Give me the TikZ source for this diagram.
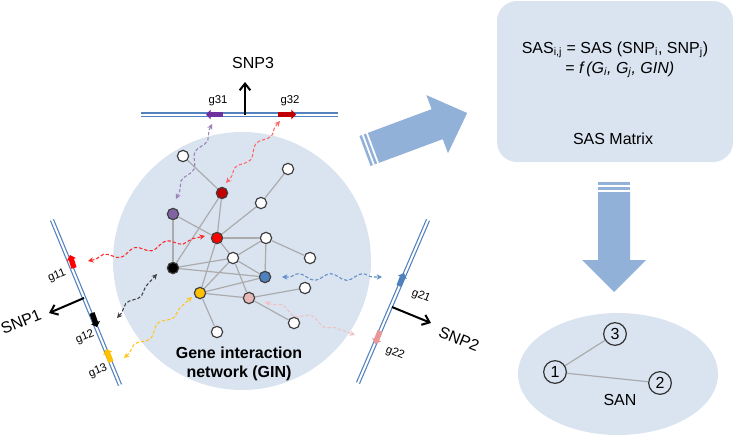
\documentclass[tikz,border=0pt]{standalone}
\usepackage{fontspec}
\setmainfont{Liberation Sans}
\usetikzlibrary{arrows.meta,decorations.pathmorphing}

\definecolor{bgblue}{RGB}{218,228,241}
\definecolor{chromoblue}{RGB}{84,130,190}
\definecolor{bigarrow}{RGB}{146,177,216}
\definecolor{gred}{RGB}{192,0,0}
\definecolor{bred}{RGB}{255,0,0}
\definecolor{gpurple}{RGB}{128,100,162}
\definecolor{dpurple}{RGB}{112,48,160}
\definecolor{gblue}{RGB}{79,129,189}
\definecolor{gyellow}{RGB}{255,192,0}
\definecolor{gpink}{RGB}{230,184,183}
\definecolor{dpink}{RGB}{232,150,150}

\tikzset{every picture/.style={line width=0.75pt}}
\tikzset{
  gnode/.style={circle, draw=black!75, line width=0.9pt, minimum size=8.5pt, inner sep=0pt, fill=white},
  gedge/.style={draw=black!33, line width=0.9pt},
  chromo/.style={draw=chromoblue, double=white, double distance=1.5pt, line width=0.9pt},
  gene/.style={line width=4pt, -{Triangle[length=3.5pt,width=7pt]}},
  wavy/.style={dashed, dash pattern=on 2.5pt off 1.5pt, line width=0.8pt,
    {Stealth[length=4pt,width=4pt]}-{Stealth[length=4pt,width=4pt]},
    decorate, decoration={snake, amplitude=2.5pt, segment length=24pt, pre length=5pt, post length=5pt}},
  snparrow/.style={line width=1.5pt, -{Straight Barb[length=5pt,width=8pt]}},
  snplabel/.style={font=\fontsize{12}{14}\selectfont, inner sep=0.75pt},
  glabel/.style={font=\fontsize{8.5}{10}\selectfont, inner sep=0.75pt},
  sannode/.style={circle, draw=black!80, line width=0.9pt, minimum size=17pt, inner sep=0pt, font=\fontsize{12}{14}\selectfont},
}

\begin{document}
\begin{tikzpicture}[x=0.75pt,y=0.75pt,yscale=-1,xscale=1]
\useasboundingbox (0,0) rectangle (748,439);

%Shape: Circle [id:gin]
\fill[bgblue] (242,261) circle (129);
%Shape: Rounded Rectangle [id:sasbox]
\fill[bgblue, rounded corners=15pt] (497,1) rectangle (733,162);
%Shape: Ellipse [id:san]
\fill[bgblue] (618,374) ellipse (100 and 61);

% big arrow to the SAS matrix
\begin{scope}[rotate around={-20.4:(365,151)}]
\fill[bigarrow] (365,135) rectangle (367.5,167);
\fill[bigarrow] (369.5,135) rectangle (372,167);
\fill[bigarrow] (374,135) -- (442,135) -- (442,120) -- (474,151) -- (442,182) -- (442,167) -- (374,167) -- cycle;
\end{scope}
% down arrow to the SAN
\fill[bigarrow] (598,182) rectangle (630,184.5);
\fill[bigarrow] (598,187) rectangle (630,189.5);
\fill[bigarrow] (598,192) -- (630,192) -- (630,260) -- (646,260) -- (614,292) -- (582,260) -- (598,260) -- cycle;

% chromosomes
\draw[chromo] (141,114.5) -- (338,114.5);
\draw[chromo] (52,220) -- (120,385);
\draw[chromo] (428,220) -- (358,383);

% genes on chromosomes
\draw[gene, dpurple] (223,114.5) -- (206,114.5);
\draw[gene, gred] (278,114.5) -- (296,114.5);
\draw[gene, bred] (74,268) -- (70,255);
\draw[gene, black] (92,313) -- (97,327);
\draw[gene, gyellow] (111,362) -- (106,349);
\draw[gene, gblue] (399,286) -- (404,273);
\draw[gene, dpink] (380,331) -- (375,344);

% SNP arrows
\coordinate (s3) at (245,114.5);
\coordinate (s3t) at (245,82);
\draw[snparrow] (s3) -- (s3t);
\coordinate (s1) at (84,298);
\coordinate (s1t) at (49,313);
\draw[snparrow] (s1) -- (s1t);
\coordinate (s2) at (392,307);
\coordinate (s2t) at (431,323);
\draw[snparrow] (s2) -- (s2t);

% Text Node
\node[snplabel] (snp3) at (253,63) {SNP3};
\node[snplabel, rotate=22] (snp1) at (21,322) {SNP1};
\node[snplabel, rotate=-22] (snp2) at (459,339) {SNP2};
\node[glabel] (g31) at (218,101) {g31};
\node[glabel] (g32) at (290,101) {g32};
\node[glabel, rotate=22] (g11) at (57,276) {g11};
\node[glabel, rotate=22] (g12) at (85,337) {g12};
\node[glabel, rotate=22] (g13) at (98,371) {g13};
\node[glabel, rotate=-22] (g21) at (421,296) {g21};
\node[glabel, rotate=-22] (g22) at (395,353) {g22};

% gene interaction network
\node[gnode] (nw1) at (183,156) {};
\node[gnode] (nw2) at (288,169) {};
\node[gnode, fill=gred] (rd1) at (222,193) {};
\node[gnode] (nw3) at (261,203) {};
\node[gnode, fill=gpurple] (pu) at (173,214) {};
\node[gnode, fill=bred] (rd2) at (217,238) {};
\node[gnode] (nw4) at (266,238) {};
\node[gnode] (nw5) at (310,258) {};
\node[gnode] (nw6) at (233,258) {};
\node[gnode, fill=black] (bk) at (173,268) {};
\node[gnode, fill=gblue] (bl) at (265,277) {};
\node[gnode] (nw7) at (305,288) {};
\node[gnode, fill=gyellow] (ye) at (200,293) {};
\node[gnode, fill=gpink] (pk) at (249,298) {};
\node[gnode] (nw8) at (217,332) {};
\node[gnode] (nw9) at (294,323) {};

\draw[gedge] (nw1) -- (rd1);
\draw[gedge] (rd1) -- (rd2);
\draw[gedge] (rd1) -- (bk);
\draw[gedge] (nw2) -- (nw3);
\draw[gedge] (nw3) -- (rd2);
\draw[gedge] (pu) -- (rd2);
\draw[gedge] (pu) -- (bk);
\draw[gedge, line width=1.6pt] (rd2) -- (nw4);
\draw[gedge] (rd2) -- (ye);
\draw[gedge] (rd2) -- (nw6);
\draw[gedge] (nw6) -- (pk);
\draw[gedge] (nw4) -- (nw5);
\draw[gedge] (nw4) -- (bl);
\draw[gedge] (nw4) -- (nw6);
\draw[gedge] (bk) -- (nw6);
\draw[gedge] (bk) -- (bl);
\draw[gedge] (nw6) -- (bl);
\draw[gedge] (nw6) -- (ye);
\draw[gedge] (ye) -- (bl);
\draw[gedge] (ye) -- (pk);
\draw[gedge] (pk) -- (nw7);
\draw[gedge] (pk) -- (nw9);
\draw[gedge] (ye) -- (nw8);

% wavy links between genes and network
\coordinate (w31) at (212,124);
\coordinate (w32) at (280,121);
\coordinate (w11) at (88,261);
\coordinate (w12) at (117,318);
\coordinate (w13) at (124,358);
\coordinate (w21) at (382,277);
\coordinate (w22) at (355,335);
\coordinate (wpu) at (176,199);
\coordinate (wrd1) at (226,183);
\coordinate (wrd2) at (205,236);
\coordinate (wbk) at (157,274);
\coordinate (wye) at (192,297);
\coordinate (wbl) at (282,277);
\coordinate (wpk) at (265,302);
\draw[wavy, gpurple!80] (w31) -- (wpu);
\draw[wavy, red!60] (w32) -- (wrd1);
\draw[wavy, bred!85] (w11) -- (wrd2);
\draw[wavy, black!75] (w12) -- (wbk);
\draw[wavy, gyellow!90] (w13) -- (wye);
\draw[wavy, gblue!90] (wbl) -- (w21);
\draw[wavy, dpink!60] (wpk) -- (w22);

% Text Node
\node[font=\bfseries\fontsize{12}{14}\selectfont, align=center] (gin) at (239,364) {Gene interaction\\network (GIN)};
\node[font=\fontsize{12}{15}\selectfont, align=center] (sas) at (615,60) {SAS\textsubscript{i,j} = SAS (SNP\textsubscript{i}, SNP\textsubscript{j})\\\hspace*{0.6em}= \textit{f\,(G\textsubscript{i}, G\textsubscript{j}, GIN)}};
\node[font=\fontsize{12}{14}\selectfont] (sasm) at (613,139) {SAS Matrix};

% SAN
\node[sannode] (c1) at (555,372) {1};
\node[sannode] (c2) at (660,383) {2};
\node[sannode] (c3) at (615,334) {3};
\draw[gedge] (c1) -- (c3);
\draw[gedge] (c1) -- (c2);
\node[font=\fontsize{12}{14}\selectfont] (sanl) at (620,400) {SAN};

\end{tikzpicture}
\end{document}
